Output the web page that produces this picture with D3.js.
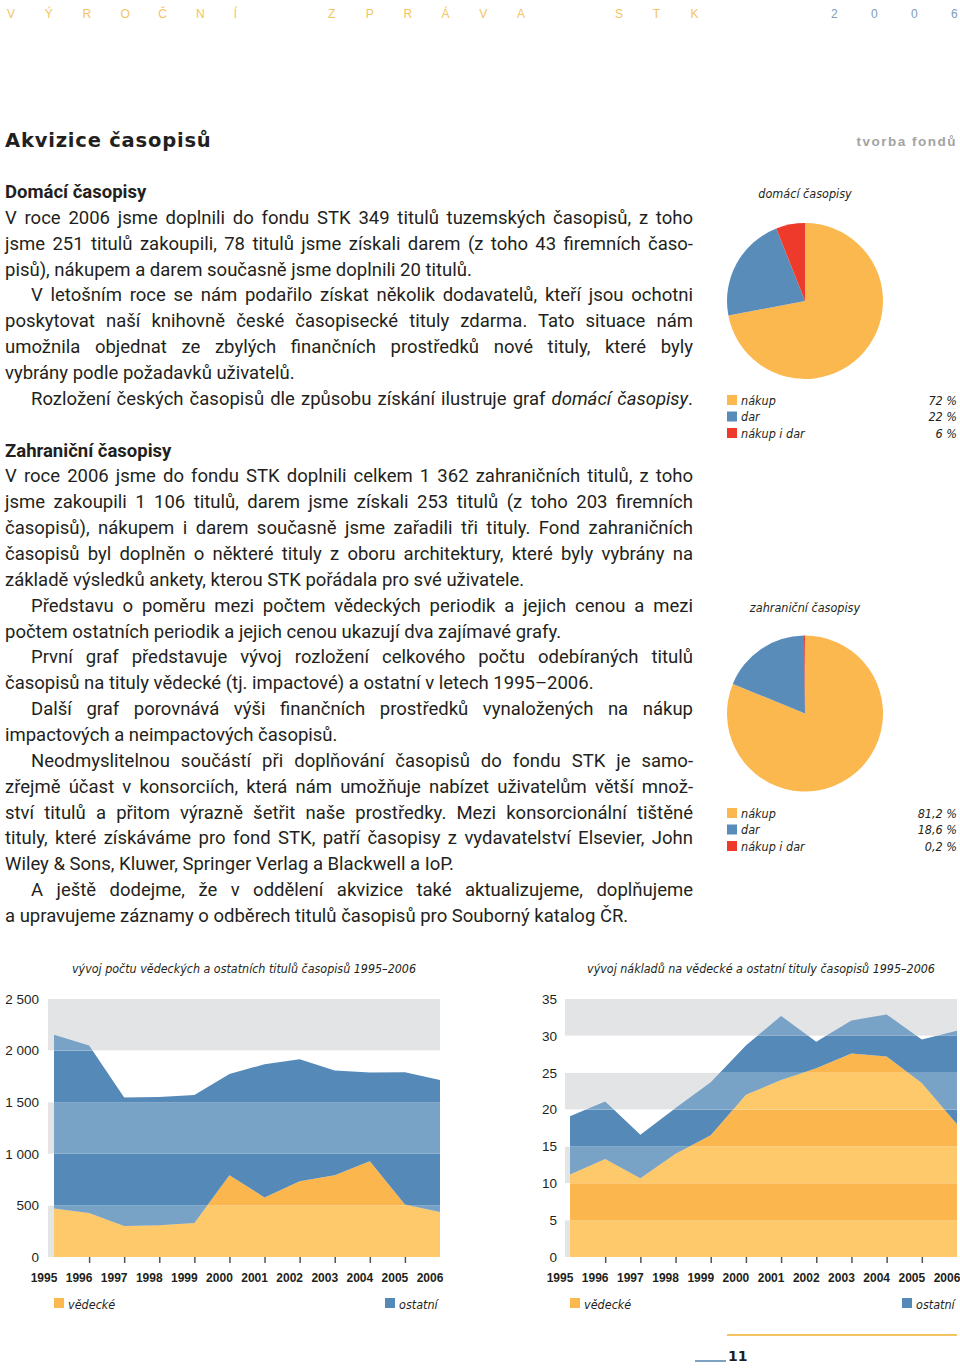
<!DOCTYPE html>
<html><head><meta charset="utf-8">
<script src="https://cdn.jsdelivr.net/npm/d3@7"></script>
<style>
html,body{margin:0;padding:0;background:#fff;}
#page{position:relative;width:960px;height:1368px;overflow:hidden;background:#fff;}
svg{position:absolute;left:0;top:0;}
#body{position:absolute;left:5px;top:180px;width:688px;font-family:Roboto,"Liberation Sans",sans-serif;font-size:18.5px;line-height:25.86px;color:#231f20;}
#body div{white-space:nowrap;}
.j{text-align:justify;text-align-last:justify;}
.e{text-align:left;}
.h{font-weight:bold;}
.ind{text-indent:26px;}
</style></head>
<body><div id="page"><div id="body"></div></div>
<script>
// ---------- data ----------
const headerWords = ["VÝROČNÍ", "ZPRÁVA", "STK"];
const headerYear = "2006";
const pageTitle = "Akvizice časopisů";
const sectionTag = "tvorba fondů";

const pieCategories = ["nákup", "dar", "nákup i dar"];
const domaciValues = [72, 22, 6];
const zahranicniValues = [81.2, 18.6, 0.2];

const years = [1995, 1996, 1997, 1998, 1999, 2000, 2001, 2002, 2003, 2004, 2005, 2006];
const seriesNames = ["vědecké", "ostatní"];
const titlesVedecke = [470, 427, 301, 308, 330, 793, 576, 735, 793, 929, 508, 437];
const titlesOstatni = [1683, 1623, 1244, 1243, 1240, 981, 1292, 1182, 1014, 858, 1282, 1279];
const costsVedecke = [11.2, 13.3, 10.7, 14.0, 16.5, 22.0, 24.0, 25.6, 27.6, 27.2, 23.6, 18.0];
const costsOstatni = [7.9, 7.8, 5.9, 6.2, 7.2, 6.7, 8.7, 3.6, 4.5, 5.7, 5.9, 12.7];
const titlesTicks = [0, 500, 1000, 1500, 2000, 2500];
const costsTicks = [0, 5, 10, 15, 20, 25, 30, 35];

const bodyLines = [
 ["h","Domácí časopisy"],
 ["j","V roce 2006 jsme doplnili do fondu STK 349 titulů tuzemských časopisů, z toho"],
 ["j","jsme 251 titulů zakoupili, 78 titulů jsme získali darem (z toho 43 firemních časo-"],
 ["e","pisů), nákupem a darem současně jsme doplnili 20 titulů."],
 ["ji","V letošním roce se nám podařilo získat několik dodavatelů, kteří jsou ochotni"],
 ["j","poskytovat naší knihovně české časopisecké tituly zdarma. Tato situace nám"],
 ["j","umožnila objednat ze zbylých finančních prostředků nové tituly, které byly"],
 ["e","vybrány podle požadavků uživatelů."],
 ["ji","Rozložení českých časopisů dle způsobu získání ilustruje graf <i>domácí časopisy</i>."],
 ["e","&nbsp;"],
 ["h","Zahraniční časopisy"],
 ["j","V roce 2006 jsme do fondu STK doplnili celkem 1 362 zahraničních titulů, z toho"],
 ["j","jsme zakoupili 1 106 titulů, darem jsme získali 253 titulů (z toho 203 firemních"],
 ["j","časopisů), nákupem i darem současně jsme zařadili tři tituly. Fond zahraničních"],
 ["j","časopisů byl doplněn o některé tituly z oboru architektury, které byly vybrány na"],
 ["e","základě výsledků ankety, kterou STK pořádala pro své uživatele."],
 ["ji","Představu o poměru mezi počtem vědeckých periodik a jejich cenou a mezi"],
 ["e","počtem ostatních periodik a jejich cenou ukazují dva zajímavé grafy."],
 ["ji","První graf představuje vývoj rozložení celkového počtu odebíraných titulů"],
 ["e","časopisů na tituly vědecké (tj. impactové) a ostatní v letech 1995–2006."],
 ["ji","Další graf porovnává výši finančních prostředků vynaložených na nákup"],
 ["e","impactových a neimpactových časopisů."],
 ["ji","Neodmyslitelnou součástí při doplňování časopisů do fondu STK je samo-"],
 ["j","zřejmě účast v konsorciích, která nám umožňuje nabízet uživatelům větší množ-"],
 ["j","ství titulů a přitom výrazně šetřit naše prostředky. Mezi konsorcionální tištěné"],
 ["j","tituly, které získáváme pro fond STK, patří časopisy z vydavatelství Elsevier, John"],
 ["e","Wiley &amp; Sons, Kluwer, Springer Verlag a Blackwell a IoP."],
 ["ji","A ještě dodejme, že v oddělení akvizice také aktualizujeme, doplňujeme"],
 ["e","a upravujeme záznamy o odběrech titulů časopisů pro Souborný katalog ČR."]
];

// ---------- styles ----------
const C = {
  ink:"#231f20", yellow:"#fbb84f", blue:"#5a8cba", red:"#ee3a2b",
  yLight:"#fdc96b", yDark:"#fbb74d", bLight:"#78a2c6", bDark:"#5589b7",
  grey:"#e3e4e6", head:"#f3c462", headBlue:"#7e9db6"
};
const narrow = '"Liberation Sans Narrow","DejaVu Sans Condensed","Liberation Sans",sans-serif';
const locale = d3.formatLocale({decimal:",", thousands:" ", grouping:[3], currency:["",""]});

// ---------- body text ----------
d3.select("#body").selectAll("div").data(bodyLines).join("div")
  .attr("class", d => d[0]==="h" ? "h e" : d[0]==="ji" ? "j ind" : d[0])
  .html(d => d[1]);
d3.selectAll("#body div").each(function(){
  const el=this; let ls=0;
  while(el.scrollWidth>688 && ls>-1.5){ ls-=0.05; el.style.letterSpacing=ls+"px"; }
});

const svg = d3.select("#page").append("svg").attr("width",960).attr("height",1368);
const defs = svg.append("defs");

// ---------- header ----------
const hx = [7, 328, 615];
headerWords.forEach((w,wi)=>{
  svg.append("g").selectAll("text").data(Array.from(w)).join("text")
    .attr("x",(c,i)=>hx[wi]+i*37.8).attr("y",14).attr("dominant-baseline","central")
    .attr("font-family",'"Liberation Sans",sans-serif').attr("font-size",12).attr("fill",C.head)
    .text(c=>c);
});
svg.append("g").selectAll("text").data(Array.from(headerYear)).join("text")
  .attr("x",(c,i)=>831+i*40).attr("y",14).attr("dominant-baseline","central")
  .attr("font-family",'"Liberation Sans",sans-serif').attr("font-size",12).attr("fill",C.headBlue)
  .text(c=>c);

svg.append("text").attr("x",5).attr("y",140).attr("dominant-baseline","central")
  .attr("font-family",'"DejaVu Sans",sans-serif').attr("font-weight","bold").attr("font-size",19.5)
  .attr("letter-spacing",0.8).attr("fill",C.ink).text(pageTitle);
svg.append("text").attr("x",957).attr("y",141).attr("dominant-baseline","central").attr("text-anchor","end")
  .attr("font-family",'"Liberation Sans",sans-serif').attr("font-weight","bold").attr("font-size",13.5)
  .attr("letter-spacing",1.5).attr("fill","#a3a3a3").text(sectionTag);

// ---------- pies ----------
function pieChart(cx, cy, title, titleY, values, legendY, fmt){
  const g = svg.append("g");
  g.append("text").attr("x",cx).attr("y",titleY).attr("text-anchor","middle").attr("dominant-baseline","central")
    .attr("font-family",narrow).attr("font-style","italic").attr("font-size",12.5).attr("fill",C.ink).text(title);
  const pie = d3.pie().sort(null)(values);
  const arc = d3.arc().innerRadius(0).outerRadius(78);
  const col = d3.scaleOrdinal().domain(pieCategories).range([C.yellow, C.blue, C.red]);
  g.append("g").attr("transform",`translate(${cx},${cy})`).selectAll("path").data(pie).join("path")
    .attr("d",arc).attr("fill",(d,i)=>col(pieCategories[i]));
  const lg = g.append("g").selectAll("g").data(pieCategories).join("g")
    .attr("transform",(d,i)=>`translate(0,${legendY+i*16.5})`);
  lg.append("rect").attr("x",727).attr("y",-5).attr("width",10).attr("height",10).attr("fill",d=>col(d));
  lg.append("text").attr("x",741).attr("dominant-baseline","central").attr("font-family",narrow)
    .attr("font-style","italic").attr("font-size",12.5).attr("fill",C.ink).text(d=>d);
  lg.append("text").attr("x",957).attr("text-anchor","end").attr("dominant-baseline","central").attr("font-family",narrow)
    .attr("font-style","italic").attr("font-size",12.5).attr("fill",C.ink).text((d,i)=>fmt(values[i])+" %");
}
pieChart(805, 301, "domácí časopisy", 193, domaciValues, 400, locale.format("d"));
pieChart(805, 713.5, "zahraniční časopisy", 607, zahranicniValues, 813, locale.format(".1f"));

// ---------- area charts ----------
function areaChart(o){
  const g = svg.append("g");
  const x = d3.scaleLinear().domain(d3.extent(years)).range([o.x0, o.x1]);
  const y = d3.scaleLinear().domain([0, o.max]).range([1257, 999]);
  const data = years.map((yr,i)=>({year:yr, vedecke:o.ved[i], ostatni:o.ost[i]}));
  const stacked = d3.stack().keys(["vedecke","ostatni"])(data);
  const area = d3.area().x(d=>x(d.data.year)).y0(d=>y(d[0])).y1(d=>y(d[1]));
  const fills = [[C.yLight, C.yDark],[C.bLight, C.bDark]];
  const bands = o.ticks.slice(0,-1);
  bands.forEach((b,k)=>{
    const id = o.id+"c"+k;
    defs.append("clipPath").attr("id",id).append("rect")
      .attr("x",o.bg).attr("y",y(o.ticks[k+1])).attr("width",o.x1-o.bg).attr("height",y(b)-y(o.ticks[k+1]));
    const bg = g.append("g").attr("clip-path",`url(#${id})`);
    if(k%2===0) bg.append("rect").attr("x",o.bg).attr("y",y(o.ticks[k+1])).attr("width",o.x1-o.bg)
      .attr("height",y(b)-y(o.ticks[k+1])).attr("fill",C.grey);
    bg.selectAll("path").data(stacked).join("path").attr("d",area).attr("fill",(s,i)=>fills[i][k%2]);
  });
  const ya = g.append("g").attr("transform",`translate(${o.yl},0)`)
    .call(d3.axisLeft(y).tickValues(o.ticks).tickFormat(o.fmt).tickSize(0).tickPadding(0));
  ya.select(".domain").remove();
  ya.selectAll("text").attr("font-family",'"Liberation Sans",sans-serif').attr("font-size",13.5).attr("fill",C.ink);
  const xt = g.append("g").attr("transform","translate(0,1257)")
    .call(d3.axisBottom(x).tickValues(years.slice(1,-1)).tickSize(6).tickFormat(""));
  xt.select(".domain").remove();
  xt.selectAll("line").attr("stroke","#555").attr("stroke-width",1.5);
  const xl = g.append("g").attr("transform","translate(-10.5,1273)")
    .call(d3.axisBottom(x).tickValues(years).tickSize(0).tickPadding(0).tickFormat(d3.format("d")));
  xl.select(".domain").remove();
  xl.selectAll("text").attr("font-family",'"Liberation Sans",sans-serif').attr("font-weight","bold")
    .attr("font-size",12).attr("fill",C.ink);
  g.append("text").attr("x",o.tx).attr("y",968).attr("text-anchor","middle").attr("dominant-baseline","central")
    .attr("font-family",narrow).attr("font-style","italic").attr("font-size",12.4).attr("fill",C.ink).text(o.title);
  const lx = [o.x0, o.x1 - 55];
  const lc = [C.yellow, C.bDark];
  seriesNames.forEach((n,i)=>{
    g.append("rect").attr("x",lx[i]).attr("y",1298).attr("width",10).attr("height",10).attr("fill",lc[i]);
    g.append("text").attr("x",lx[i]+14).attr("y",1304).attr("dominant-baseline","central").attr("font-family",narrow)
      .attr("font-style","italic").attr("font-size",12.5).attr("fill",C.ink).text(n);
  });
}
areaChart({id:"a", x0:54, x1:440, bg:48, max:2500, ticks:titlesTicks, ved:titlesVedecke, ost:titlesOstatni,
  yl:39, fmt:locale.format(",d"), tx:244, title:"vývoj počtu vědeckých a ostatních titulů časopisů 1995–2006"});
areaChart({id:"b", x0:570, x1:957, bg:565, max:35, ticks:costsTicks, ved:costsVedecke, ost:costsOstatni,
  yl:557, fmt:locale.format("d"), tx:761, title:"vývoj nákladů na vědecké a ostatní tituly časopisů 1995–2006"});

// ---------- footer ----------
svg.append("line").attr("x1",727).attr("x2",957).attr("y1",1335).attr("y2",1335).attr("stroke","#f6c465").attr("stroke-width",2);
svg.append("line").attr("x1",695).attr("x2",726).attr("y1",1361).attr("y2",1361).attr("stroke","#7ea3c2").attr("stroke-width",2);
svg.append("text").attr("x",728).attr("y",1361).attr("font-family",'"DejaVu Sans",sans-serif').attr("font-weight","bold")
  .attr("font-size",14).attr("fill",C.ink).text("11");
</script>
</body></html>
